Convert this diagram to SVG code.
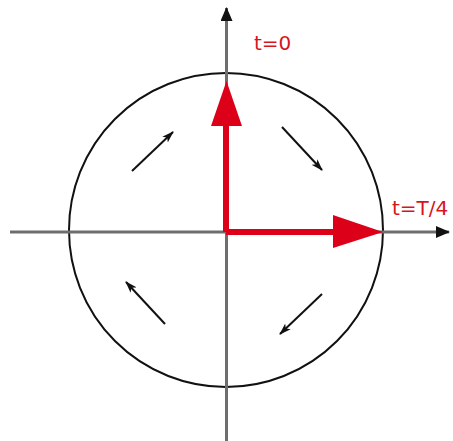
<svg xmlns="http://www.w3.org/2000/svg" width="453" height="441" viewBox="0 0 453 441">
<style>
.axis{stroke:#6e6e6e;stroke-width:3;fill:none}
.circ{stroke:#111;stroke-width:2;fill:none}
.vec{stroke:#dc0018;stroke-width:6;fill:none}
.head{fill:#dc0018}
.rot{stroke:#111;stroke-width:2;fill:none}
.lbl{font-family:"DejaVu Sans",sans-serif;font-size:20px;fill:#d8141c}
</style>
<defs>
<marker id="ah" viewBox="0 0 12 8" refX="11" refY="4" markerWidth="12" markerHeight="8" markerUnits="userSpaceOnUse" orient="auto">
<path d="M0,0 L12,4 L0,8 L3,4 Z" fill="#111"/>
</marker>
<marker id="axh" viewBox="0 0 14 12" refX="13" refY="6" markerWidth="14" markerHeight="12" markerUnits="userSpaceOnUse" orient="auto">
<path d="M0,0 L14,6 L0,12 Z" fill="#111"/>
</marker>
</defs>
<g id="circle"><ellipse class="circ" cx="226" cy="230" rx="157" ry="157"/></g>
<g id="axes">
<line class="axis" x1="10" y1="232" x2="449" y2="232" marker-end="url(#axh)"/>
<line class="axis" x1="226.5" y1="441" x2="226.5" y2="8" marker-end="url(#axh)"/>
</g>
<g id="vector-t0">
<line class="vec" x1="226" y1="232" x2="226" y2="122"/>
<polygon class="head" points="226.5,81 211,126 242,126"/>
</g>
<g id="vector-tT4">
<line class="vec" x1="226" y1="232" x2="336" y2="232"/>
<polygon class="head" points="383,232 333,215 333,248"/>
</g>
<g id="rotation-arrows">
<line class="rot" x1="132" y1="171" x2="173" y2="132" marker-end="url(#ah)"/>
<line class="rot" x1="282" y1="127" x2="322" y2="170" marker-end="url(#ah)"/>
<line class="rot" x1="322" y1="294" x2="280" y2="334" marker-end="url(#ah)"/>
<line class="rot" x1="165" y1="324" x2="126" y2="282" marker-end="url(#ah)"/>
</g>
<g id="labels">
<text class="lbl" x="254" y="50">t=0</text>
<text class="lbl" x="392" y="215">t=T/4</text>
</g>
</svg>
